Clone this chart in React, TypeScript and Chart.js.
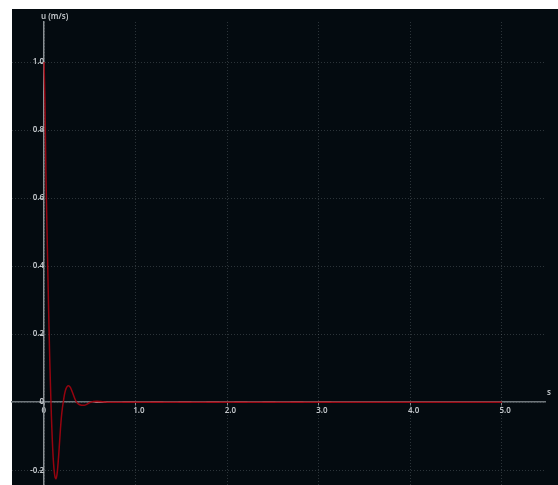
import React, { useEffect, useRef } from "react";
import { Chart, registerables } from "chart.js";

Chart.register(...registerables);

// time (s)
const timeValues = [
  0, 0.01, 0.02, 0.03, 0.04, 0.05, 0.06, 0.07, 0.08, 0.09, 0.1, 0.11, 0.12, 0.13, 0.14,
  0.15, 0.16, 0.17, 0.18, 0.19, 0.2, 0.21, 0.22, 0.23, 0.24, 0.25, 0.26, 0.27, 0.28,
  0.29, 0.3, 0.32, 0.34, 0.36, 0.38, 0.4, 0.42, 0.44, 0.46, 0.48, 0.5, 0.54, 0.58,
  0.62, 0.66, 0.7, 5.0,
];
// velocity u (m/s)
const velocityValues = [
  1.0, 0.88, 0.68, 0.54, 0.4, 0.27, 0.15, 0.05, -0.04, -0.11, -0.165, -0.2, -0.22,
  -0.225, -0.215, -0.19, -0.155, -0.115, -0.075, -0.042, -0.018, 0.0, 0.018, 0.031,
  0.04, 0.045, 0.048, 0.048, 0.046, 0.042, 0.036, 0.022, 0.008, -0.002, -0.006,
  -0.008, -0.009, -0.009, -0.007, -0.004, -0.001, 0.002, 0.003, 0.002, 0.001, 0, 0,
];
// light dashed overlay on the zero line
const dashTimes = [0.55, 3.14];
const dashValues = [0, 0];

const xTicks = [0, 1, 2, 3, 4, 5];
const yTicks = [-0.2, 0, 0.2, 0.4, 0.6, 0.8, 1.0];
const xAxisName = "s";
const yAxisName = "u (m/s)";

const fmt = (v: number) => (Math.abs(v) < 1e-9 ? "0" : v.toFixed(1));

const decorPlugin = {
  id: "decor",
  beforeDraw(chart: any) {
    const ctx = chart.ctx;
    ctx.save();
    ctx.fillStyle = "#040b10";
    ctx.fillRect(12, 9, 546, 490);
    ctx.restore();
  },
  afterDraw(chart: any) {
    const ctx = chart.ctx;
    const xs = chart.scales.x;
    const ys = chart.scales.y;
    ctx.save();
    ctx.fillStyle = "#c4c8cc";
    ctx.font = "600 8px 'Noto Sans'";
    ctx.textBaseline = "middle";
    ctx.textAlign = "left";
    ctx.fillText(yAxisName, xs.getPixelForValue(0) - 3, ys.top - 5);
    ctx.fillText(xAxisName, xs.right + 2, ys.getPixelForValue(0) - 9);
    ctx.restore();
  },
};

export default function App() {
  const ref = useRef<HTMLCanvasElement>(null);
  useEffect(() => {
    if (!ref.current) return;
    const tickFont = { family: "'Noto Sans'", size: 8, weight: "600" as const };
    const chart = new Chart(ref.current, {
      type: "line",
      data: {
        datasets: [
          {
            data: timeValues.map((t, i) => ({ x: t, y: velocityValues[i] })),
            borderColor: "rgba(158, 4, 16, 0.95)",
            borderWidth: 1.5,
            pointRadius: 0,
            tension: 0.2,
            fill: false,
          },
          {
            data: dashTimes.map((t, i) => ({ x: t, y: dashValues[i] })),
            borderColor: "rgba(215, 120, 130, 0.7)",
            borderWidth: 1.5,
            borderDash: [13, 15],
            pointRadius: 0,
            fill: false,
          },
        ],
      },
      options: {
        responsive: false,
        animation: false,
        layout: { padding: { left: 12, top: 22, right: 13, bottom: 0 } },
        plugins: { legend: { display: false }, tooltip: { enabled: false } },
        scales: {
          x: {
            type: "linear",
            position: { y: 0 } as any,
            min: -0.35,
            max: 5.47,
            afterBuildTicks: (s: any) => {
              s.ticks = xTicks.map((value) => ({ value }));
            },
            ticks: {
              callback: (v: any) => fmt(Number(v)),
              color: "#c4c8cc",
              font: tickFont,
              padding: 1,
              align: "start",
              labelOffset: -2.5,
              maxRotation: 0,
              autoSkip: false,
            },
            grid: {
              color: "rgba(120, 130, 136, 0.35)",
              tickColor: "rgba(160, 166, 170, 0.8)",
              tickLength: 3,
              lineWidth: 1,
            },
            border: { color: "#6f767b", width: 1.5, dash: [1, 2] },
          },
          y: {
            type: "linear",
            position: { x: 0 } as any,
            min: -0.244,
            max: 1.118,
            afterBuildTicks: (s: any) => {
              s.ticks = yTicks.map((value) => ({ value }));
            },
            ticks: {
              callback: (v: any) => fmt(Number(v)),
              color: "#c4c8cc",
              font: tickFont,
              padding: 2,
              autoSkip: false,
            },
            grid: {
              color: "rgba(120, 130, 136, 0.35)",
              tickColor: "rgba(160, 166, 170, 0.8)",
              tickLength: 4,
              lineWidth: 1,
            },
            border: { color: "#8a9094", width: 1.5, dash: [1, 2] },
          },
        },
      },
      plugins: [decorPlugin],
    });
    return () => chart.destroy();
  }, []);
  return (
    <div
      style={{
        position: "absolute",
        left: 0,
        top: 0,
        width: 558,
        height: 485,
        overflow: "hidden",
      }}
    >
      <canvas ref={ref} width={558} height={492} style={{ display: "block" }} />
    </div>
  );
}
